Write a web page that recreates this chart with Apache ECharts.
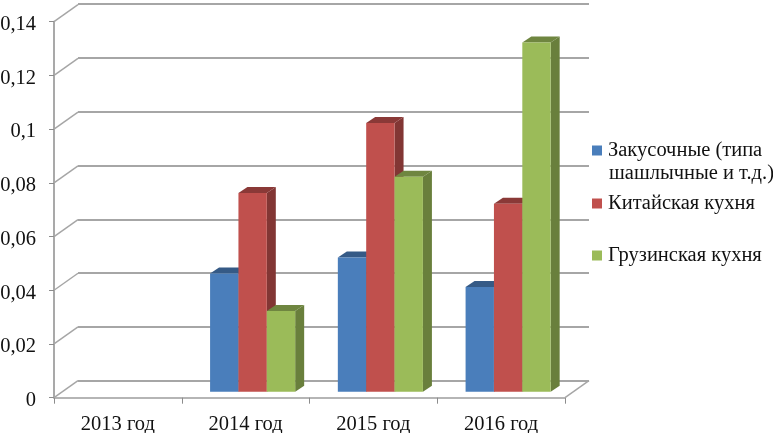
<!DOCTYPE html>
<html><head><meta charset="utf-8">
<style>html,body{margin:0;padding:0;background:#fff}#c{width:773px;height:433px}</style>
<script src="https://cdn.jsdelivr.net/npm/echarts@6/dist/echarts.min.js"></script>
</head><body><div id="c"></div>
<script>
var categories = ['2013 год','2014 год','2015 год','2016 год'];
var snack = [null,0.044,0.05,0.039];
var chinese = [null,0.074,0.1,0.07];
var georgian = [null,0.03,0.08,0.13];
var seriesNames = ['Закусочные (типа шашлычные и т.д.)','Китайская кухня','Грузинская кухня'];
var ticks = [0,0.02,0.04,0.06,0.08,0.1,0.12,0.14];
var FONT = '"Liberation Serif"';
var WALL = '#a6a6a6';

function shade(hex,f){var n=parseInt(hex.slice(1),16);
  var r=(n>>16)*f|0,g=((n>>8)&255)*f|0,b=(n&255)*f|0;return 'rgb('+r+','+g+','+b+')';}

function barSeries(name,values,idx,color){
  return {type:'custom',name:name,coordinateSystem:'cartesian2d',xAxisIndex:0,yAxisIndex:0,z:5+idx,
    itemStyle:{color:color},encode:{x:0,y:1},clip:false,
    data:values.map(function(v,i){return [i,v];}),
    renderItem:function(params,api){
      var v=api.value(1); if(v===null||isNaN(v)) return;
      var w=api.size([1,0])[0]*0.222;
      var base=api.coord([api.value(0),0]), top=api.coord([api.value(0),v]);
      var x=base[0]+7+(idx-1.5)*w, y0=base[1]-6, y1=top[1]-6, dx=9, dy=6;
      return {type:'group',children:[
        {type:'polygon',shape:{points:[[x+w,y0],[x+w+dx,y0-dy],[x+w+dx,y1-dy],[x+w,y1]]},style:{fill:shade(color,0.68)}},
        {type:'polygon',shape:{points:[[x,y1],[x+dx,y1-dy],[x+w+dx,y1-dy],[x+w,y1]]},style:{fill:shade(color,0.72)}},
        {type:'rect',shape:{x:x,y:y1,width:w,height:y0-y1},style:{fill:color}}
      ]};
    }};
}

var option = {
  animation:false,backgroundColor:'#fff',
  textStyle:{fontFamily:FONT},
  grid:[
    {left:54,right:208,top:21.6,bottom:35.3,outerBoundsMode:'none',containLabel:false},
    {left:78,right:184,top:4.2,bottom:52.3,outerBoundsMode:'none',containLabel:false}
  ],
  xAxis:[
    {type:'category',gridIndex:0,data:categories,boundaryGap:true,
     axisLine:{lineStyle:{color:'#b5b5b5',width:2}},
     axisTick:{show:true,length:6,alignWithLabel:false,lineStyle:{color:'#8c8c8c',width:1}},
     axisLabel:{color:'#111',fontSize:20.5,fontFamily:FONT,margin:16}},
    {type:'category',gridIndex:1,data:categories,show:false}
  ],
  yAxis:[
    {type:'value',gridIndex:0,min:0,max:0.14,interval:0.02,
     axisLine:{show:true,lineStyle:{color:'#8c8c8c',width:1.5}},
     axisTick:{show:true,length:5,lineStyle:{color:'#8c8c8c',width:1}},
     splitLine:{show:false},
     axisLabel:{color:'#111',fontSize:20.5,fontFamily:FONT,margin:18,verticalAlign:'top',lineHeight:6,
       formatter:function(v){return String(+v.toFixed(2)).replace('.',',');}}},
    {type:'value',gridIndex:1,min:0,max:0.14,interval:0.02,
     axisLine:{show:false},axisTick:{show:false},axisLabel:{show:false},
     splitLine:{show:true,lineStyle:{color:WALL,width:2}}}
  ],
  legend:[0,1,2].map(function(i){
    return {show:true,data:[seriesNames[i]],left:592,top:[140,193,245][i],icon:'rect',
      itemWidth:10,itemHeight:10,itemGap:0,padding:0,selectedMode:false,
      formatter:function(n){return i===0?'Закусочные (типа':n;},
      textStyle:{color:'#111',fontSize:20.5,fontFamily:FONT,padding:[3,0,0,1]}};
  }),
  graphic:[{type:'text',left:609,top:163,silent:true,
    style:{text:'шашлычные и т.д.)',fill:'#111',font:'20.5px '+FONT}}],
  series:[
    {type:'custom',name:'wall',coordinateSystem:'cartesian2d',xAxisIndex:0,yAxisIndex:0,z:1,silent:true,clip:false,
     encode:{y:0},data:ticks.map(function(t){return [t];}),
     renderItem:function(params,api){
       var p=api.coord([0,api.value(0)]);
       var origin=[params.coordSys.x,p[1]];
       var kids=[{type:'line',shape:{x1:origin[0],y1:origin[1],x2:origin[0]+24,y2:origin[1]-17},
         style:{stroke:WALL,lineWidth:1.5}}];
       if(api.value(0)===0){
         var rx=params.coordSys.x+params.coordSys.width;
         kids.push({type:'line',shape:{x1:rx,y1:origin[1],x2:rx+24,y2:origin[1]-17},style:{stroke:WALL,lineWidth:1.5}});
       }
       return {type:'group',children:kids};
     }},
    barSeries(seriesNames[0],snack,0,'#4a7ebb'),
    barSeries(seriesNames[1],chinese,1,'#c0504d'),
    barSeries(seriesNames[2],georgian,2,'#9bbb59')
  ]
};
var chart=echarts.init(document.getElementById('c'),null,{renderer:'canvas'});
chart.setOption(option);
</script></body></html>
